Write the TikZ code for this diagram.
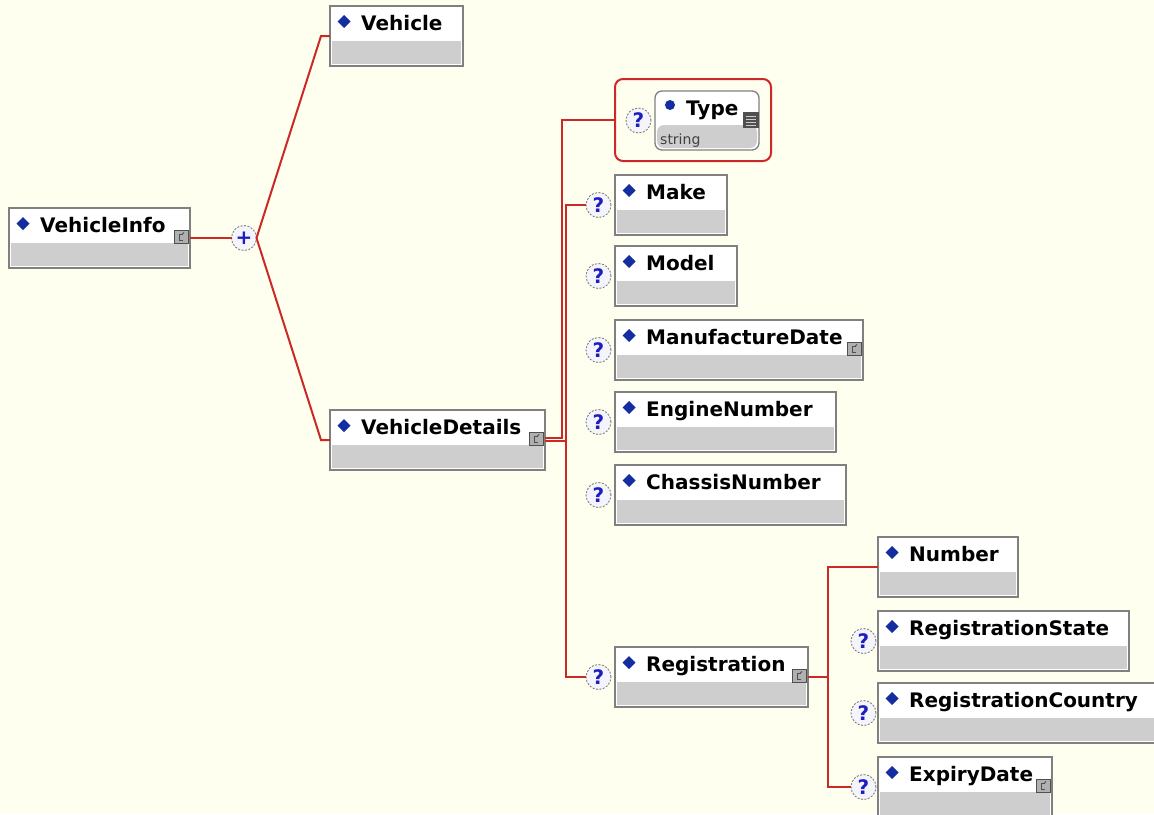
\documentclass[tikz,border=0pt]{standalone}
\usepackage{fontspec}
\setmainfont{DejaVu Sans}
\usetikzlibrary{positioning}
\definecolor{bgcream}{RGB}{255,255,240}
\definecolor{boxline}{RGB}{128,128,128}
\definecolor{boxgray}{RGB}{206,206,206}
\definecolor{linkred}{RGB}{205,40,40}
\definecolor{diablue}{RGB}{20,45,160}
\definecolor{qblue}{RGB}{30,30,190}
\definecolor{qfill}{RGB}{244,244,252}
\definecolor{icofill}{RGB}{176,176,176}
\definecolor{icoline}{RGB}{80,80,80}
\begin{document}
\begin{tikzpicture}[x=1pt,y=-1pt,
	link/.style={draw=linkred,line width=2pt},
	elem/.style={draw=boxline,line width=1.3pt,fill=white,anchor=north west,minimum height=60pt,inner sep=0pt,outer sep=0pt,
		path picture={
			\fill[boxgray] ([shift={(2pt,2pt)}]path picture bounding box.south west) rectangle ([shift={(-2pt,25pt)}]path picture bounding box.south east);
			\fill[diablue] ([shift={(14pt,-9pt)}]path picture bounding box.north west) -- ++(6.5pt,-6.5pt) -- ++(-6.5pt,-6.5pt) -- ++(-6.5pt,6.5pt) -- cycle;}},
	stype/.style={draw=boxline,line width=1.3pt,fill=white,anchor=north west,rounded corners=7pt,minimum width=104pt,minimum height=59pt,inner sep=0pt,outer sep=0pt,
		path picture={
			\fill[boxgray] ([shift={(2pt,2pt)}]path picture bounding box.south west) rectangle ([shift={(-2pt,25pt)}]path picture bounding box.south east);
			\fill[diablue] ([shift={(15pt,-14pt)}]path picture bounding box.north west) circle[radius=5pt];}},
	grpbox/.style={draw=linkred,line width=2pt,rounded corners=8pt,anchor=north west,minimum width=156pt,minimum height=82pt,outer sep=0pt},
	elabel/.style={anchor=base west,xshift=31pt,yshift=-24pt,inner sep=0pt,font=\fontsize{20}{24}\selectfont\bfseries},
	cicon/.style={anchor=north east,xshift=-1.5pt,yshift=-22pt,draw=icoline,line width=0.8pt,fill=icofill,minimum width=14pt,minimum height=13pt,inner sep=0pt,
		path picture={
			\draw[icoline,line width=0.8pt] ([shift={(9pt,-4pt)}]path picture bounding box.north west) -- ++(-4pt,0) -- ++(0,-6pt) -- ++(4pt,0);
			\draw[icoline,line width=0.8pt] ([shift={(8pt,-4pt)}]path picture bounding box.north west) -- ++(2pt,2pt);}},
	hasc/.style={label={[cicon]north east:{}}},
	ticon/.style={anchor=north east,yshift=-21pt,fill=icoline,minimum size=16pt,inner sep=0pt,
		path picture={
			\foreach \k in {4,7,10,13}
				\draw[white!80!black,line width=1pt] ([shift={(3pt,-\k pt)}]path picture bounding box.north west) -- ++(10pt,0);}},
	opt/.style={circle,draw=boxline,line width=0.9pt,dash pattern=on 2pt off 1.5pt,fill=qfill,minimum size=25pt,inner sep=0pt,outer sep=0pt,text=qblue,font=\fontsize{20}{20}\selectfont\bfseries}]

	%background
	\useasboundingbox (0,0) rectangle (1154,814);
	\fill[bgcream] (0,0) rectangle (1154,814);
	\clip (0,0) rectangle (1154,814);

	%root and choice
	\node[elem,hasc,minimum width=181pt,label={[elabel]north west:VehicleInfo}] (vinfo) at (9,208) {};
	\node[opt] (plus) at (244,238) {+};
	\node[elem,minimum width=133pt,label={[elabel]north west:Vehicle}] (vehicle) at (330,6) {};
	\node[elem,hasc,minimum width=215pt,label={[elabel]north west:VehicleDetails}] (vdet) at (330,410) {};

	%vehicle details children
	\node[grpbox] (ttype) at (615,79) {}; %type group
	\node[stype,label={[elabel]north west:Type},label={[ticon]north east:{}},
		label={[anchor=base west,xshift=5pt,yshift=6pt,inner sep=0pt,text=black!75,font=\fontsize{14}{16}\selectfont]south west:string}] (tbox) at (655,91) {};
	\node[opt,left=4pt of tbox] (qtype) {?};
	\node[elem,minimum width=112pt,label={[elabel]north west:Make}] (make) at (615,175) {};
	\node[opt,left=4pt of make] (qmake) {?};
	\node[elem,minimum width=122pt,label={[elabel]north west:Model}] (model) at (615,246) {};
	\node[opt,left=4pt of model] (qmodel) {?};
	\node[elem,hasc,minimum width=248pt,label={[elabel]north west:ManufactureDate}] (manu) at (615,320) {};
	\node[opt,left=4pt of manu] (qmanu) {?};
	\node[elem,minimum width=221pt,label={[elabel]north west:EngineNumber}] (engine) at (615,392) {};
	\node[opt,left=4pt of engine] (qengine) {?};
	\node[elem,minimum width=231pt,label={[elabel]north west:ChassisNumber}] (chassis) at (615,465) {};
	\node[opt,left=4pt of chassis] (qchassis) {?};
	\node[elem,hasc,minimum width=193pt,label={[elabel]north west:Registration}] (reg) at (615,647) {};
	\node[opt,left=4pt of reg] (qreg) {?};

	%registration children
	\node[elem,minimum width=140pt,label={[elabel]north west:Number}] (number) at (878,537) {};
	\node[elem,minimum width=251pt,label={[elabel]north west:RegistrationState}] (rstate) at (878,611) {};
	\node[opt,left=2pt of rstate] (qrstate) {?};
	\node[elem,minimum width=280pt,label={[elabel]north west:RegistrationCountry}] (rcountry) at (878,683) {};
	\node[opt,left=2pt of rcountry] (qrcountry) {?};
	\node[elem,hasc,minimum width=174pt,label={[elabel]north west:ExpiryDate}] (expiry) at (878,757) {};
	\node[opt,left=2pt of expiry] (qexpiry) {?};

	%connectors
	\draw[link] (vinfo.east) -- (plus.west);
	\draw[link] (plus.east) -- ([xshift=-9pt]vehicle.west) -- (vehicle.west);
	\draw[link] (plus.east) -- ([xshift=-9pt]vdet.west) -- (vdet.west);
	\draw[link] ([yshift=2pt]vdet.east) -- ++(17pt,0) coordinate (ttrunk) -- (ttrunk |- ttype.west) -- (ttype.west); %to type
	\draw[link] ([yshift=-1pt]vdet.east) -- ++(21pt,0) coordinate (trunk) -- (trunk |- qmake.west) -- (qmake.west); %to make
	\draw[link] (trunk) -- (trunk |- qreg.west) -- (qreg.west); %to registration
	\draw[link] (reg.east) -- ++(20pt,0) coordinate (rtrunk) -- (rtrunk |- number.west) -- (number.west);
	\draw[link] (rtrunk) -- (rtrunk |- qexpiry.west) -- (qexpiry.west);
\end{tikzpicture}
\end{document}
